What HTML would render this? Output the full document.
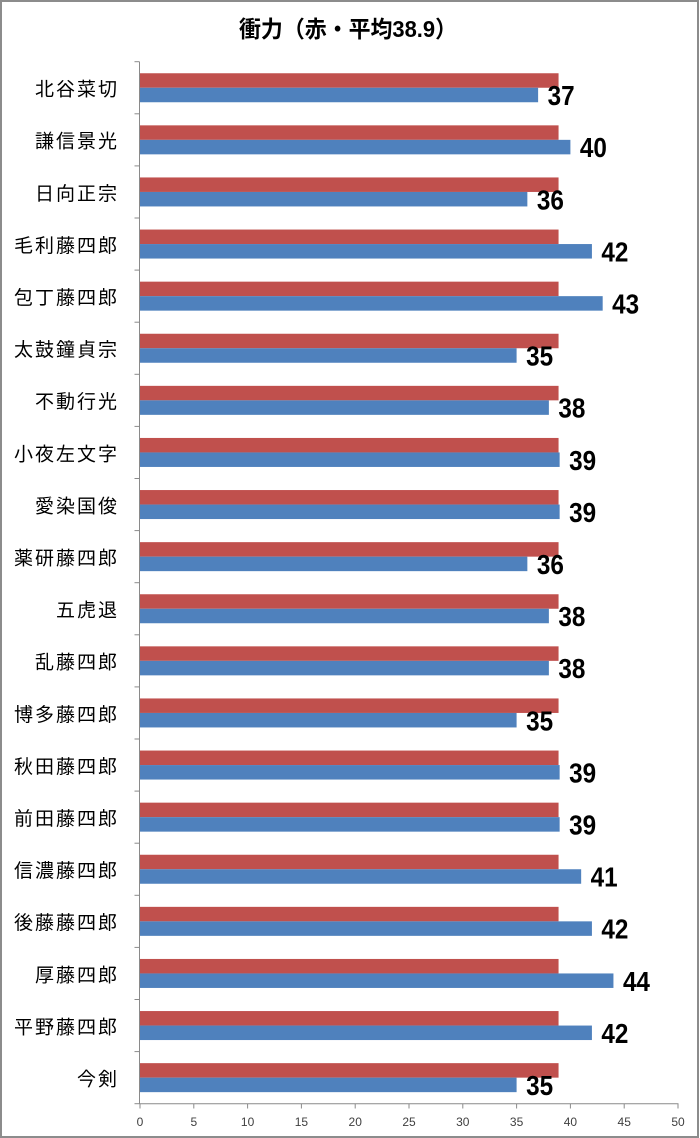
<!DOCTYPE html>
<html><head><meta charset="utf-8"><style>
html,body{margin:0;padding:0;background:#fff;}
svg{display:block;}
.cat{font-family:"Liberation Sans","Noto Sans CJK JP",sans-serif;font-size:19px;fill:#000;letter-spacing:2px;}
.val{font-family:"Liberation Sans",sans-serif;font-size:28px;font-weight:bold;fill:#000;}
.tk{font-family:"Liberation Sans",sans-serif;font-size:12px;fill:#404040;}
</style></head><body>
<svg width="700" height="1138" viewBox="0 0 700 1138" xmlns="http://www.w3.org/2000/svg">
<rect x="0" y="0" width="700" height="1138" fill="#fff"/>
<rect x="1" y="1" width="697" height="1136" fill="none" stroke="#8c8c8c" stroke-width="2"/>
<text x="348" y="37" text-anchor="middle" font-family="'Liberation Sans','Noto Sans CJK JP',sans-serif" font-size="23" font-weight="bold" fill="#000" textLength="218" lengthAdjust="spacingAndGlyphs">衝力（赤・平均38.9）</text>
<g id="bars"></g>
<g id="axes" stroke="#8a8a8a" stroke-width="1"></g>
<g id="labels"></g>
<script>
(function(){
var names=["北谷菜切","謙信景光","日向正宗","毛利藤四郎","包丁藤四郎","太鼓鐘貞宗","不動行光","小夜左文字","愛染国俊","薬研藤四郎","五虎退","乱藤四郎","博多藤四郎","秋田藤四郎","前田藤四郎","信濃藤四郎","後藤藤四郎","厚藤四郎","平野藤四郎","今剣"];
var vals=[37,40,36,42,43,35,38,39,39,36,38,38,35,39,39,41,42,44,42,35];
var NS="http://www.w3.org/2000/svg";
var x0=140,sc=10.76,top=61.7,band=52.1;
var bars=document.getElementById("bars"),axes=document.getElementById("axes"),labels=document.getElementById("labels");
function el(tag,attrs,parent,txt){var e=document.createElementNS(NS,tag);for(var k in attrs)e.setAttribute(k,attrs[k]);if(txt!==undefined)e.textContent=txt;parent.appendChild(e);return e;}
for(var i=0;i<20;i++){
  var c=top+band*(i+0.5);
  el("rect",{x:x0,y:(c-14.5).toFixed(2),width:(38.9*sc).toFixed(2),height:14.5,fill:"#C0504D"},bars);
  el("rect",{x:x0,y:c.toFixed(2),width:(vals[i]*sc).toFixed(2),height:14.5,fill:"#4F81BD"},bars);
  el("text",{x:119,y:(c+7.8).toFixed(2),"text-anchor":"end","class":"cat"},labels,names[i]);
  var vx=x0+vals[i]*sc+9.5;
  el("text",{x:vx.toFixed(2),y:(c+17.3).toFixed(2),"class":"val",textLength:"27",lengthAdjust:"spacingAndGlyphs"},labels,String(vals[i]));
}
el("line",{x1:139.5,y1:top,x2:139.5,y2:1104},axes);
for(var k=0;k<=20;k++){var y=top+band*k;el("line",{x1:134.5,y1:y.toFixed(2),x2:139.5,y2:y.toFixed(2)},axes);}
el("line",{x1:139.5,y1:1103.7,x2:678.5,y2:1103.7},axes);
for(var t=0;t<=50;t+=5){var x=x0+t*sc;
  el("line",{x1:x.toFixed(2),y1:1103.7,x2:x.toFixed(2),y2:1108.5},axes);
  el("text",{x:x.toFixed(2),y:1126,"text-anchor":"middle","class":"tk"},labels,String(t));
}
})();
</script>
</svg>
</body></html>
